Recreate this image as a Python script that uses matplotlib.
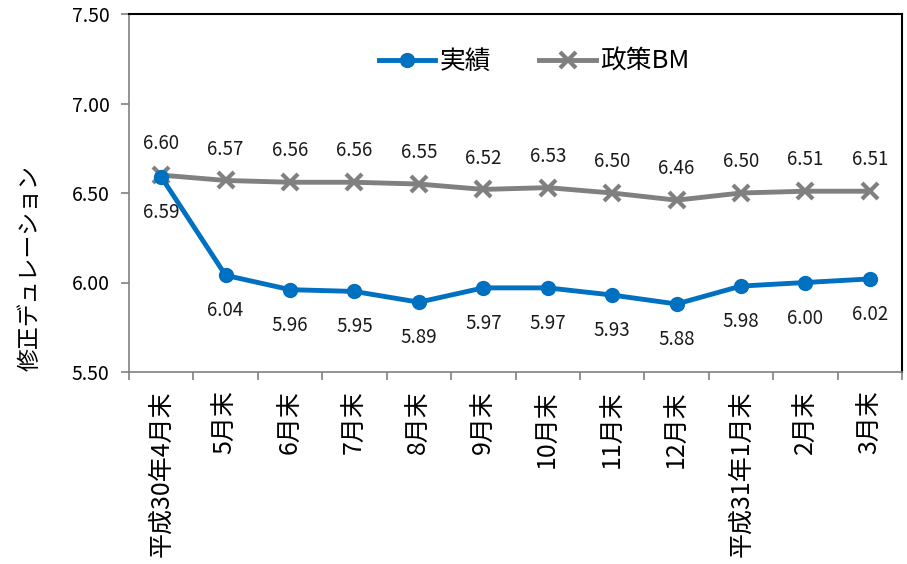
import matplotlib
matplotlib.use("Agg")
import matplotlib.pyplot as plt

plt.rcParams['font.family'] = ['Noto Sans CJK JP', 'DejaVu Sans']

categories = ["平成30年4月末", "5月末", "6月末", "7月末", "8月末", "9月末", "10月末",
              "11月末", "12月末", "平成31年1月末", "2月末", "3月末"]
actual = [6.59, 6.04, 5.96, 5.95, 5.89, 5.97, 5.97, 5.93, 5.88, 5.98, 6.00, 6.02]
bench = [6.60, 6.57, 6.56, 6.56, 6.55, 6.52, 6.53, 6.50, 6.46, 6.50, 6.51, 6.51]
yticks = [5.50, 6.00, 6.50, 7.00, 7.50]

W, H = 907, 564
fig = plt.figure(figsize=(W / 100, H / 100), dpi=100)
ax = fig.add_axes([129 / W, 1 - 372 / H, (902 - 129) / W, (372 - 14) / H])

x = list(range(len(categories)))
blue = "#0070C0"
gray = "#808080"
ax.plot(x, actual, color=blue, lw=3.5, marker='o', ms=10, label="実績", zorder=3)
ax.plot(x, bench, color=gray, lw=3.5, marker='x', ms=11, mew=3, label="政策BM", zorder=2)

for xi, v in zip(x, actual):
    ax.annotate(f"{v:.2f}", (xi, v), xytext=(0, -18), textcoords='offset points',
                ha='center', va='top', fontsize=13.5, color='#1a1a1a')
for xi, v in zip(x, bench):
    ax.annotate(f"{v:.2f}", (xi, v), xytext=(0, 15), textcoords='offset points',
                ha='center', va='bottom', fontsize=13.5, color='#1a1a1a')

ax.set_xlim(-0.5, len(categories) - 0.5)
ax.set_ylim(5.5, 7.5)
ax.set_yticks(yticks)
ax.set_yticklabels([f"{t:.2f}" for t in yticks], fontsize=14)
ax.set_xticks([i - 0.5 for i in range(len(categories) + 1)], minor=False)
ax.set_xticklabels([])
ax.set_xticks(x, minor=True)
ax.set_xticklabels(categories, minor=True, rotation=90, fontsize=18, va='top', ha='center')
ax.tick_params(axis='x', which='major', length=6, color=gray, width=1.2, direction='out')
ax.tick_params(axis='x', which='minor', length=0, pad=13)
ax.tick_params(axis='y', length=6, color=gray, width=1.2, pad=8)

for s in ['left', 'bottom']:
    ax.spines[s].set_color(gray)
    ax.spines[s].set_linewidth(1.2)
for s in ['top', 'right']:
    ax.spines[s].set_color('black')
    ax.spines[s].set_linewidth(1.5)

fig.text(30 / W, 1 - 268 / H, "修正デュレーション", rotation=90, ha='center', va='center',
         fontsize=16.5)

ax.legend(loc='center', bbox_to_anchor=((534 - 129) / 773, 1 - (62 - 14) / 358), ncol=2,
          frameon=False, fontsize=18.5, handlelength=2.2, columnspacing=1.9,
          handletextpad=0.15)

fig.savefig("out.png", dpi=100)
